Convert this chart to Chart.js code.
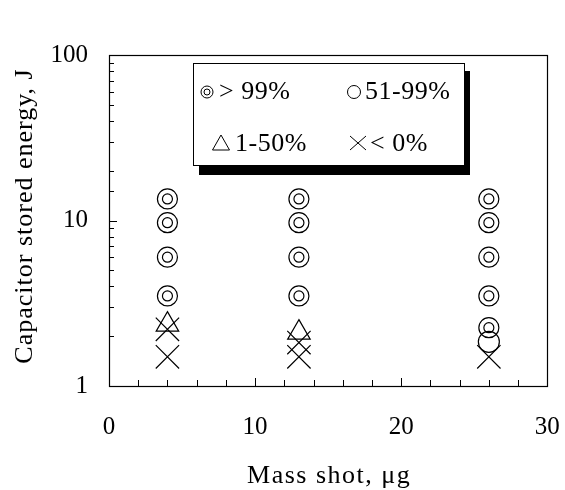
<!DOCTYPE html>
<html>
<head>
<meta charset="utf-8">
<script src="https://cdn.jsdelivr.net/npm/chart.js@4.4.0/dist/chart.umd.min.js"></script>
<style>
  html, body { margin: 0; padding: 0; background: #fff; }
  canvas { display: block; }
</style>
</head>
<body>
<canvas id="chart" width="565" height="490"></canvas>
<script>
// ===== data =====
const xTickLabels = [0, 10, 20, 30];
const yTickLabels = [1, 10, 100];

// > 99%  (double circle)
const above99X = [4, 4, 4, 4, 13, 13, 13, 13, 26, 26, 26, 26, 26];
const above99Y = [13.5, 9.7, 6, 3.5, 13.5, 9.7, 6, 3.5, 13.5, 9.7, 6, 3.5, 2.25];
// 51-99% (circle)
const mid51X = [26];
const mid51Y = [1.85];
// 1-50% (triangle)
const low1X = [4, 13];
const low1Y = [2.35, 2.1];
// < 0% (cross)
const negX = [4, 4, 13, 13, 26];
const negY = [2.2, 1.5, 1.83, 1.5, 1.5];

const legendLabels = ["> 99%", "51-99%", "1-50%", "< 0%"];
const xTitle = "Mass shot, \u03bcg";
const yTitle = "Capacitor stored energy, J";

const FONT = '"Liberation Serif", "Times New Roman", serif';

function pts(xs, ys) {
  return xs.map((x, i) => ({ x: x, y: ys[i] }));
}

function markerSet(data, style, radius) {
  return {
    data: data,
    pointStyle: style,
    pointRadius: radius,
    pointBorderColor: "#000",
    pointBackgroundColor: "rgba(0,0,0,0)",
    pointBorderWidth: 1.2,
    showLine: false
  };
}

// ===== frame, inward ticks, titles =====
const framePlugin = {
  id: "frame",
  afterDraw(chart) {
    const ctx = chart.ctx;
    const a = chart.chartArea;
    const xs = chart.scales.x;
    const ys = chart.scales.y;
    ctx.save();
    ctx.strokeStyle = "#000";
    ctx.lineWidth = 1.2;
    ctx.strokeRect(Math.round(a.left) + 0.5, Math.round(a.top) + 0.5,
      Math.round(a.right - a.left), Math.round(a.bottom - a.top));

    ctx.lineWidth = 1;
    ctx.beginPath();
    xs.ticks.forEach(t => {
      const px = Math.round(xs.getPixelForValue(t.value)) + 0.5;
      const len = xTickLabels.includes(t.value) ? 8 : 6;
      ctx.moveTo(px, a.bottom);
      ctx.lineTo(px, a.bottom - len);
    });
    ys.ticks.forEach(t => {
      const py = Math.round(ys.getPixelForValue(t.value)) + 0.5;
      const len = yTickLabels.includes(t.value) ? 8 : 5;
      ctx.moveTo(a.left, py);
      ctx.lineTo(a.left + len, py);
    });
    ctx.stroke();

    // axis titles
    ctx.fillStyle = "#000";
    ctx.font = "26px " + FONT;
    ctx.textAlign = "center";
    ctx.textBaseline = "alphabetic";
    ctx.letterSpacing = "1.5px";
    ctx.fillText(xTitle, (a.left + a.right) / 2 + 1, 483);
    ctx.letterSpacing = "1px";
    ctx.translate(32, 216);
    ctx.rotate(-Math.PI / 2);
    ctx.fillText(yTitle, 0, 0);
    ctx.restore();
  }
};

// ===== boxed legend with shadow =====
const legendPlugin = {
  id: "boxLegend",
  afterDatasetsDraw(chart) {
    const ctx = chart.ctx;
    ctx.save();
    ctx.fillStyle = "#000";
    ctx.fillRect(199, 71, 271, 104);
    ctx.fillStyle = "#fff";
    ctx.fillRect(193, 63, 271, 102);
    ctx.strokeStyle = "#000";
    ctx.lineWidth = 1;
    ctx.strokeRect(193.5, 63.5, 271, 102);

    ctx.lineWidth = 1;
    // double circle
    ctx.beginPath(); ctx.arc(207, 92, 6, 0, Math.PI * 2); ctx.stroke();
    ctx.beginPath(); ctx.arc(207, 92, 3, 0, Math.PI * 2); ctx.stroke();
    // circle
    ctx.beginPath(); ctx.arc(354, 92, 6.5, 0, Math.PI * 2); ctx.stroke();
    // triangle
    ctx.beginPath();
    ctx.moveTo(221, 135); ctx.lineTo(229.5, 150); ctx.lineTo(212.5, 150); ctx.closePath();
    ctx.stroke();
    // cross
    ctx.beginPath();
    ctx.moveTo(350, 136); ctx.lineTo(366, 150);
    ctx.moveTo(366, 136); ctx.lineTo(350, 150);
    ctx.stroke();

    ctx.fillStyle = "#000";
    ctx.font = "26px " + FONT;
    ctx.letterSpacing = "0.5px";
    ctx.textAlign = "left";
    ctx.textBaseline = "alphabetic";
    ctx.fillText(legendLabels[0], 219, 99);
    ctx.fillText(legendLabels[1], 365, 99);
    ctx.fillText(legendLabels[2], 235, 151);
    ctx.fillText(legendLabels[3], 370, 151);
    ctx.restore();
  }
};

const ctx = document.getElementById("chart");
new Chart(ctx, {
  type: "scatter",
  data: {
    datasets: [
      markerSet(pts(above99X, above99Y), "circle", 10),
      markerSet(pts(above99X, above99Y), "circle", 5),
      markerSet(pts(mid51X, mid51Y), "circle", 10.5),
      markerSet(pts(low1X, low1Y), "triangle", 13),
      markerSet(pts(negX, negY), "crossRot", 16.5)
    ]
  },
  options: {
    responsive: false,
    animation: false,
    events: [],
    layout: { padding: { top: 55, right: 15, left: 0, bottom: 0 } },
    plugins: {
      legend: { display: false },
      tooltip: { enabled: false }
    },
    scales: {
      x: {
        type: "linear",
        min: 0,
        max: 30,
        grid: { display: false, drawTicks: false },
        border: { display: false },
        ticks: {
          stepSize: 2,
          autoSkip: false,
          maxRotation: 0,
          padding: 26,
          color: "#000",
          font: { family: FONT, size: 25 },
          callback: v => (xTickLabels.includes(v) ? String(v) : "")
        },
        afterFit: s => { s.height = 104; s.paddingLeft = 0; s.paddingRight = 0; }
      },
      y: {
        type: "logarithmic",
        min: 1,
        max: 100,
        grid: { display: false, drawTicks: false },
        border: { display: false },
        ticks: {
          autoSkip: false,
          padding: 21,
          color: "#000",
          font: { family: FONT, size: 25 },
          callback: v => (yTickLabels.includes(v) ? String(v) : "")
        },
        afterFit: s => { s.width = 109; s.paddingTop = 0; s.paddingBottom = 0; }
      }
    }
  },
  plugins: [framePlugin, legendPlugin]
});
</script>
</body>
</html>
